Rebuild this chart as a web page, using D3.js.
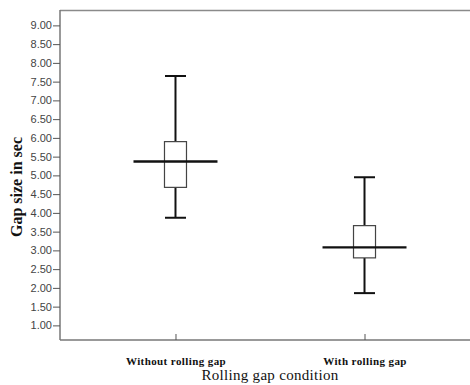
<!DOCTYPE html>
<html><head><meta charset="utf-8">
<script src="https://cdn.jsdelivr.net/npm/d3@7"></script>
<style>body{margin:0;background:#fff}svg{display:block}</style>
</head><body>
<svg id="c" width="470" height="385"></svg>
<script>
const categories = ["Without rolling gap", "With rolling gap"];
const whiskerLow  = [3.87, 1.86];
const q1          = [4.68, 2.80];
const median      = [5.37, 3.08];
const q3          = [5.90, 3.66];
const whiskerHigh = [7.65, 4.95];
const yTicks = [1,1.5,2,2.5,3,3.5,4,4.5,5,5.5,6,6.5,7,7.5,8,8.5,9];
const xTitle = "Rolling gap condition";
const yTitle = "Gap size in sec";

const svg = d3.select("#c");
const L = 60, R = 480, T = 10, B = 340;
const y = d3.scaleLinear().domain([0.61, 9.41]).range([B, T]);
const x = d3.scalePoint().domain(categories).range([L, R]).padding(0.611);

// frame
svg.append("line").attr("x1", L).attr("x2", R).attr("y1", T + 0.5).attr("y2", T + 0.5)
  .attr("stroke", "#8a8a8a").attr("stroke-width", 1.5);

// y axis
const ya = svg.append("g").attr("transform", `translate(${L},0)`)
  .call(d3.axisLeft(y).tickValues(yTicks).tickFormat(d3.format(".2f")).tickSize(7).tickPadding(1));
ya.select(".domain").attr("stroke", "#777").attr("stroke-width", 1.5).attr("d", `M0,${T}V${B}`);
ya.selectAll(".tick line").attr("stroke", "#555");
ya.selectAll(".tick text").attr("fill", "#444").attr("font-family", "Liberation Sans, Arial, sans-serif").attr("font-size", 11);

// x axis
const xa = svg.append("g").attr("transform", `translate(0,${B})`)
  .call(d3.axisBottom(x).tickSize(-6).tickPadding(17));
xa.select(".domain").attr("stroke", "#777").attr("stroke-width", 1.5).attr("d", `M${L},0H${R}`);
xa.selectAll(".tick line").attr("stroke", "#555");
xa.selectAll(".tick text").attr("fill", "#111").attr("font-family", "Liberation Serif, Times New Roman, serif")
  .attr("font-weight", "bold").attr("font-size", 11).attr("letter-spacing", 0.4);

// titles
svg.append("text").attr("x", 270).attr("y", 380).attr("text-anchor", "middle")
  .attr("font-family", "Liberation Serif, Times New Roman, serif").attr("font-size", 15).attr("letter-spacing", 0.3).attr("fill", "#111").text(xTitle);
svg.append("text").attr("transform", "translate(22,187) rotate(-90)").attr("text-anchor", "middle")
  .attr("font-family", "Liberation Serif, Times New Roman, serif").attr("font-weight", "bold").attr("font-size", 16).attr("fill", "#111").text(yTitle);

// boxes
const boxW = 22, capW = 21, medW = 84;
const g = svg.append("g");
categories.forEach((c, i) => {
  const cx = x(c);
  g.append("line").attr("x1", cx).attr("x2", cx).attr("y1", y(q3[i])).attr("y2", y(whiskerHigh[i])).attr("stroke", "#111").attr("stroke-width", 2);
  g.append("line").attr("x1", cx).attr("x2", cx).attr("y1", y(q1[i])).attr("y2", y(whiskerLow[i])).attr("stroke", "#111").attr("stroke-width", 2);
  g.append("line").attr("x1", cx - capW/2).attr("x2", cx + capW/2).attr("y1", y(whiskerHigh[i])).attr("y2", y(whiskerHigh[i])).attr("stroke", "#111").attr("stroke-width", 2);
  g.append("line").attr("x1", cx - capW/2).attr("x2", cx + capW/2).attr("y1", y(whiskerLow[i])).attr("y2", y(whiskerLow[i])).attr("stroke", "#111").attr("stroke-width", 2);
  g.append("rect").attr("x", cx - boxW/2).attr("y", y(q3[i])).attr("width", boxW).attr("height", y(q1[i]) - y(q3[i]))
    .attr("fill", "#fff").attr("stroke", "#444").attr("stroke-width", 1.2);
  g.append("line").attr("x1", cx - medW/2).attr("x2", cx + medW/2).attr("y1", y(median[i])).attr("y2", y(median[i])).attr("stroke", "#111").attr("stroke-width", 2.4);
});
</script>
</body></html>
